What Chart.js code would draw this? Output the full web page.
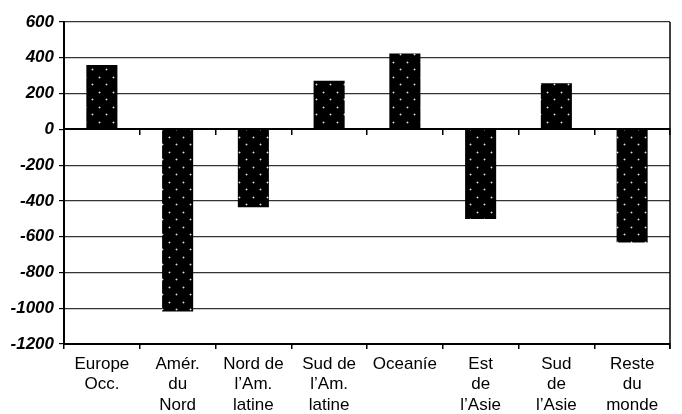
<!DOCTYPE html>
<html lang="fr">
<head>
    <meta charset="UTF-8">
    <title>Graphique</title>
    <script src="https://cdn.jsdelivr.net/npm/chart.js@4.4.0/dist/chart.umd.min.js"></script>
    <style>
        html, body{margin:0; padding:0; background:#fff;}
        #wrap{width:682px; height:414px;}
    </style>
</head>
<body>
    <div id="wrap"><canvas id="myChart" width="682" height="414"></canvas></div>
    <script>
        // régions
        const regions = [
            ['Europe', 'Occ.'],
            ['Amér.', 'du', 'Nord'],
            ['Nord de', 'l’Am.', 'latine'],
            ['Sud de', 'l’Am.', 'latine'],
            ['Oceaníe'],
            ['Est', 'de', 'l’Asie'],
            ['Sud', 'de', 'l’Asie'],
            ['Reste', 'du', 'monde']
        ]
        const values = [360, -1019, -435, 272, 424, -501, 258, -632]
        const yMin = -1200
        const yMax = 600
        const yStep = 200

        // motif noir à points blancs
        function dotPattern(){
            const c = document.createElement('canvas')
            c.width = 14; c.height = 15
            const g = c.getContext('2d')
            g.fillStyle = '#000'
            g.fillRect(0, 0, 14, 15)
            g.fillStyle = '#ddd'
            g.fillRect(1, 2, 1, 1)
            g.fillRect(8, 9, 1, 1)
            g.fillStyle = 'rgba(200,200,200,0.45)'
            g.fillRect(0, 2, 1, 1); g.fillRect(2, 2, 1, 1); g.fillRect(1, 1, 1, 1); g.fillRect(1, 3, 1, 1)
            g.fillRect(7, 9, 1, 1); g.fillRect(9, 9, 1, 1); g.fillRect(8, 8, 1, 1); g.fillRect(8, 10, 1, 1)
            return g.createPattern(c, 'repeat')
        }

        // bord droit du cadre
        const rightFrame = {
            id: 'rightFrame',
            afterDraw(chart){
                const a = chart.chartArea
                const ctx = chart.ctx
                ctx.save()
                ctx.strokeStyle = '#000'
                ctx.lineWidth = 1.5
                ctx.beginPath()
                ctx.moveTo(a.right, a.top)
                ctx.lineTo(a.right, a.bottom + 5)
                ctx.stroke()
                ctx.restore()
            }
        }

        const ctx = document.getElementById('myChart').getContext('2d')
        const myChart = new Chart(ctx, {
            type: 'bar',
            data: {
                labels: regions,
                datasets: [{
                    data: values,
                    backgroundColor: dotPattern(),
                    borderColor: '#555',
                    borderWidth: 0,
                    barPercentage: 0.41,
                    categoryPercentage: 1
                }]
            },
            options: {
                responsive: false,
                animation: false,
                layout: {padding: {top: 22, right: 12, left: 0, bottom: 0}},
                plugins: {legend: {display: false}, tooltip: {enabled: false}},
                scales: {
                    x: {
                        offset: true,
                        afterFit(s){ s.height = 70 },
                        grid: {drawOnChartArea: false, offset: true, tickLength: 5, tickColor: '#000', lineWidth: 1.5},
                        border: {color: '#000', width: 2},
                        ticks: {
                            color: '#000',
                            maxRotation: 0,
                            autoSkip: false,
                            padding: 5,
                            font: {family: '"Liberation Sans", Arial, sans-serif', size: 17, lineHeight: 1.2}
                        }
                    },
                    x2: {
                        type: 'category',
                        position: {y: 0},
                        offset: true,
                        grid: {drawOnChartArea: false, offset: true, tickLength: 5, tickColor: '#000', lineWidth: 1.5},
                        border: {color: '#000', width: 2, z: 1},
                        ticks: {display: false}
                    },
                    y: {
                        min: yMin,
                        max: yMax,
                        afterFit(s){ s.width = 64 },
                        grid: {
                            color: ctx => ctx.tick && ctx.tick.value === 0 ? 'rgba(0,0,0,0)' : '#333',
                            lineWidth: 1.2,
                            tickLength: 5,
                            tickColor: '#000'
                        },
                        border: {color: '#000', width: 2},
                        ticks: {
                            stepSize: yStep,
                            color: '#000',
                            padding: 5,
                            callback: v => String(v),
                            font: {family: '"Liberation Sans", Arial, sans-serif', size: 17, weight: 'bold', style: 'italic'}
                        }
                    }
                }
            },
            plugins: [rightFrame]
        })
    </script>
</body>
</html>
